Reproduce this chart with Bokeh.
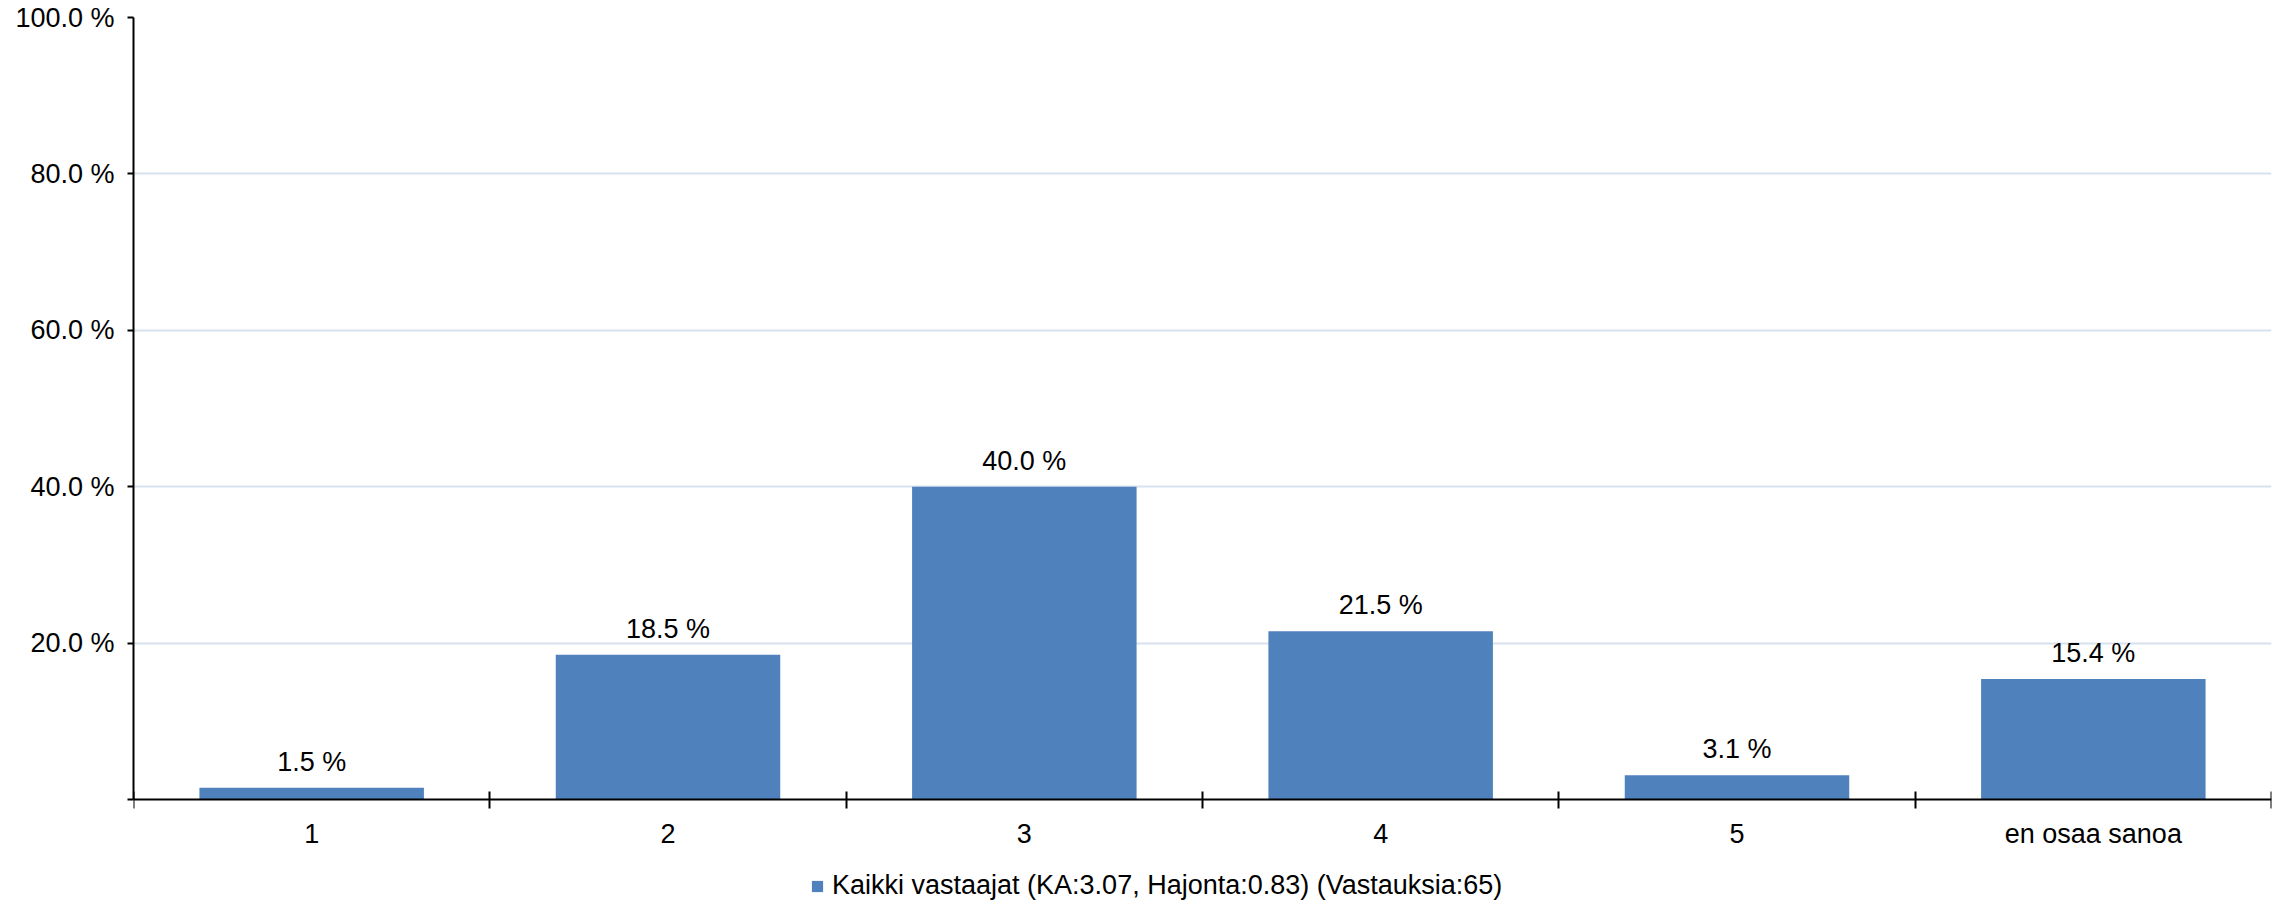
from bokeh.plotting import figure
from bokeh.models import FixedTicker, PrintfTickFormatter, Legend, LegendItem, ColumnDataSource, Range1d
from bokeh.core.properties import value
from bokeh.embed import file_html
from bokeh.resources import INLINE

categories = ["1", "2", "3", "4", "5", "en osaa sanoa"]
values = [1.5, 18.5, 40.0, 21.5, 3.1, 15.4]
y_ticks = [0, 20, 40, 60, 80, 100]
series_name = "Kaikki vastaajat (KA:3.07, Hajonta:0.83) (Vastauksia:65)"

FONT = "Liberation Sans"
BAR = "#4f81bd"
FS = "27px"

W, H = 2290, 904
LEFT, RIGHT, TOP, ZERO_Y = 133, 2271, 17, 799
# extend the frame below zero so the legend (drawn inside the frame) fits under the axis
y_start = -100.0 * (H - ZERO_Y) / (ZERO_Y - TOP)

xs = [i + 0.5 for i in range(len(categories))]
labels = [f"{v:.1f} %" for v in values]
src = ColumnDataSource(dict(x=xs, top=values, label=labels))

p = figure(width=W, height=H, output_backend="svg", toolbar_location=None,
           x_range=Range1d(0, len(categories)), y_range=Range1d(y_start, 100),
           min_border_left=LEFT, min_border_right=W - RIGHT, min_border_top=TOP, min_border_bottom=0)
p.outline_line_color = None
p.background_fill_color = "white"

r = p.vbar(x="x", top="top", bottom=0, width=0.63, source=src, fill_color=BAR, line_color=None)
p.text(x="x", y="top", text="label", source=src, text_align="center", text_baseline="alphabetic",
       y_offset=-26, text_font=value(FONT), text_font_size=FS, text_color="#000000")

# x axis, pinned at y = 0
xa = p.xaxis[0]
xa.fixed_location = 0
xa.ticker = FixedTicker(ticks=xs, minor_ticks=list(range(len(categories) + 1)))
xa.major_label_overrides = {x: c for x, c in zip(xs, categories)}
xa.major_tick_line_color = None
xa.major_tick_in = 0
xa.major_tick_out = 0
xa.minor_tick_in = 8
xa.minor_tick_out = 9
xa.minor_tick_line_color = "black"
xa.minor_tick_line_width = 2
xa.axis_line_width = 2
xa.axis_line_color = "black"
xa.major_label_text_font = FONT
xa.major_label_text_font_size = FS
xa.major_label_text_color = "#000000"
xa.major_label_standoff = 10

# y axis
ya = p.yaxis[0]
ya.bounds = (0, 100)
ya.ticker = FixedTicker(ticks=y_ticks, minor_ticks=[])
ya.formatter = PrintfTickFormatter(format="%.1f %%")
ya.major_label_overrides = {0: ""}
ya.major_tick_in = 0
ya.major_tick_out = 6
ya.major_tick_line_width = 2
ya.major_tick_line_color = "black"
ya.axis_line_width = 2
ya.axis_line_color = "black"
ya.major_label_text_font = FONT
ya.major_label_text_font_size = FS
ya.major_label_text_color = "#000000"
ya.major_label_standoff = 13

p.xgrid.grid_line_color = None
p.ygrid.ticker = FixedTicker(ticks=y_ticks[1:])
p.ygrid.grid_line_color = "#d8e2ef"
p.ygrid.grid_line_width = 2

legend = Legend(items=[LegendItem(label=series_name, renderers=[r])],
                location=(677, 3), orientation="horizontal",
                label_text_font=FONT, label_text_font_size=FS, label_text_color="#000000",
                glyph_width=14, glyph_height=14, label_standoff=8,
                padding=0, margin=0,
                border_line_color=None, background_fill_alpha=0)
p.add_layout(legend, "center")

open("out.html", "w").write(file_html(p, INLINE))
